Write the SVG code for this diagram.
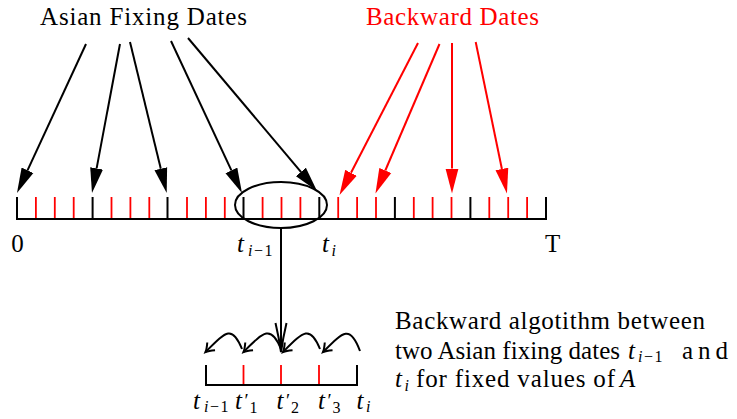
<svg xmlns="http://www.w3.org/2000/svg" width="737" height="419" viewBox="0 0 737 419">
<style>
text{font-family:"Liberation Serif","DejaVu Serif",serif;font-size:25px;fill:#000}
.it{font-style:italic}
.sub{font-size:16px}
.sp{letter-spacing:1.5px}
.pr{font-size:19px}
.red{fill:#ff0000}
.ax{stroke:#000;stroke-width:2;fill:none}
.tk{stroke:#000;stroke-width:2}
.tr{stroke:#ff0000;stroke-width:1.8}
.ck{stroke:#000;stroke-width:2;fill:none}
.cr{stroke:#ff0000;stroke-width:2;fill:none}
</style>
<defs>
<marker id="triK" viewBox="0 -7 26 14" markerWidth="26" markerHeight="14" refX="0" refY="0" orient="auto" markerUnits="userSpaceOnUse"><path d="M0,-6.5 L25,0 L0,6.5 Z" fill="#000"/></marker>
<marker id="triR" viewBox="0 -7 26 14" markerWidth="26" markerHeight="14" refX="0" refY="0" orient="auto" markerUnits="userSpaceOnUse"><path d="M0,-6.5 L25,0 L0,6.5 Z" fill="#ff0000"/></marker>
<marker id="open" viewBox="-11 -7 13 14" markerWidth="13" markerHeight="14" refX="0" refY="0" orient="auto" markerUnits="userSpaceOnUse" overflow="visible"><path d="M-8,-5.5 Q-3,-1.2 0,0 Q-3,1.2 -8,5.5" fill="none" stroke="#000" stroke-width="2"/></marker>
</defs>

<g id="label-asian"><text x="40" y="25" textLength="207" lengthAdjust="spacing">Asian Fixing Dates</text></g>
<g id="label-backward"><text class="red" x="366" y="24.5" textLength="173" lengthAdjust="spacing">Backward Dates</text></g>

<g id="main-axis">
<line class="ax" x1="16" y1="219" x2="547" y2="219"/>
<g class="tk">
<line x1="17" y1="197" x2="17" y2="219"/>
<line x1="92.6" y1="197" x2="92.6" y2="219"/>
<line x1="167.5" y1="197" x2="167.5" y2="219"/>
<line x1="243.5" y1="197" x2="243.5" y2="219"/>
<line x1="319.3" y1="197" x2="319.3" y2="219"/>
<line x1="394.9" y1="197" x2="394.9" y2="219"/>
<line x1="470.4" y1="197" x2="470.4" y2="219"/>
<line x1="546" y1="197" x2="546" y2="219"/>
</g>
<g class="tr">
<line x1="35.9" y1="197" x2="35.9" y2="218"/>
<line x1="54.8" y1="197" x2="54.8" y2="218"/>
<line x1="73.7" y1="197" x2="73.7" y2="218"/>
<line x1="111.5" y1="197" x2="111.5" y2="218"/>
<line x1="130.4" y1="197" x2="130.4" y2="218"/>
<line x1="149.3" y1="197" x2="149.3" y2="218"/>
<line x1="187" y1="197" x2="187" y2="218"/>
<line x1="205.9" y1="197" x2="205.9" y2="218"/>
<line x1="224.8" y1="197" x2="224.8" y2="218"/>
<line x1="262.6" y1="197" x2="262.6" y2="218"/>
<line x1="281.5" y1="197" x2="281.5" y2="218"/>
<line x1="300.4" y1="197" x2="300.4" y2="218"/>
<line x1="338.2" y1="197" x2="338.2" y2="218"/>
<line x1="357.1" y1="197" x2="357.1" y2="218"/>
<line x1="376" y1="197" x2="376" y2="218"/>
<line x1="413.8" y1="197" x2="413.8" y2="218"/>
<line x1="432.6" y1="197" x2="432.6" y2="218"/>
<line x1="451.5" y1="197" x2="451.5" y2="218"/>
<line x1="489.3" y1="197" x2="489.3" y2="218"/>
<line x1="508.2" y1="197" x2="508.2" y2="218"/>
<line x1="527.1" y1="197" x2="527.1" y2="218"/>
</g>
<text x="17.5" y="252" font-size="23" text-anchor="middle">0</text>
<text y="252" font-size="24"><tspan x="237" class="it">t</tspan><tspan x="248" dy="3.5" class="sub sp"><tspan class="it">i</tspan>−1</tspan></text>
<text y="252" font-size="24"><tspan x="322" class="it">t</tspan><tspan x="331.5" dy="3.5" class="sub it">i</tspan></text>
<text x="545" y="252" font-size="23">T</text>
</g>

<g id="ellipse"><ellipse class="ax" cx="281" cy="205" rx="46" ry="23"/></g>

<g id="small-axis">
<line class="ax" x1="205" y1="385" x2="358" y2="385"/>
<line class="tk" x1="206" y1="365" x2="206" y2="385"/>
<line class="tk" x1="357" y1="365" x2="357" y2="385"/>
<line class="tr" x1="243.5" y1="365" x2="243.5" y2="384"/>
<line class="tr" x1="281" y1="365" x2="281" y2="384"/>
<line class="tr" x1="319" y1="365" x2="319" y2="384"/>
<text y="409" font-size="24"><tspan x="193" class="it">t</tspan><tspan x="204" dy="3" class="sub sp"><tspan class="it">i</tspan>−1</tspan></text>
<text y="409" font-size="24"><tspan x="235" class="it">t</tspan><tspan x="244.5" dy="-2" class="pr">′</tspan><tspan x="249.5" dy="6" class="sub">1</tspan></text>
<text y="409" font-size="24"><tspan x="276.5" class="it">t</tspan><tspan x="286" dy="-2" class="pr">′</tspan><tspan x="291" dy="6" class="sub">2</tspan></text>
<text y="409" font-size="24"><tspan x="318" class="it">t</tspan><tspan x="327.5" dy="-2" class="pr">′</tspan><tspan x="332.5" dy="6" class="sub">3</tspan></text>
<text y="409" font-size="24"><tspan x="356.5" class="it">t</tspan><tspan x="366" dy="3" class="sub it">i</tspan></text>
</g>

<g id="explanation">
<text x="395" y="328.5" textLength="310" lengthAdjust="spacing">Backward algotithm between</text>
<text x="395" y="358.5" textLength="225" lengthAdjust="spacing">two Asian fixing dates</text>
<text y="358.5"><tspan x="628" class="it">t</tspan><tspan x="638" dy="3.5" class="sub sp"><tspan class="it">i</tspan>−1</tspan></text>
<text x="682" y="358.5" textLength="46" lengthAdjust="spacing">and</text>
<text y="387"><tspan x="395" class="it">t</tspan><tspan x="404.5" dy="3.5" class="sub it">i</tspan></text>
<text x="416" y="387" textLength="199" lengthAdjust="spacing">for fixed values of</text>
<text x="620" y="387" class="it">A</text>
</g>

<g id="connectors">
<line class="ck" x1="86" y1="44" x2="27.5" y2="170.3" marker-end="url(#triK)"/>
<line class="ck" x1="120" y1="44" x2="96.6" y2="168.4" marker-end="url(#triK)"/>
<line class="ck" x1="130" y1="42" x2="160.8" y2="168.7" marker-end="url(#triK)"/>
<line class="ck" x1="171" y1="41" x2="231.4" y2="170.4" marker-end="url(#triK)"/>
<line class="ck" x1="188" y1="38" x2="300.9" y2="171.9" marker-end="url(#triK)"/>
<line class="cr" x1="418" y1="43" x2="351" y2="172.8" marker-end="url(#triR)"/>
<line class="cr" x1="439.5" y1="44" x2="385.3" y2="170.5" marker-end="url(#triR)"/>
<line class="cr" x1="452" y1="43" x2="452" y2="168.5" marker-end="url(#triR)"/>
<line class="cr" x1="475.7" y1="42" x2="501.9" y2="169" marker-end="url(#triR)"/>
<line class="ck" x1="281" y1="228" x2="281" y2="351"/>
<path class="ck" d="M275.5,323 Q279,338 281,352 Q283,338 286.5,323"/>
<path class="ck" d="M242,349 C232,324 225.5,332 205.5,352" marker-end="url(#open)"/>
<path class="ck" d="M281,349 C271,324 263.5,332 243.5,352" marker-end="url(#open)"/>
<path class="ck" d="M320,349 C310,324 303,332 283,352" marker-end="url(#open)"/>
<path class="ck" d="M360,351 C350,324 343,332 323,352" marker-end="url(#open)"/>
</g>
</svg>
